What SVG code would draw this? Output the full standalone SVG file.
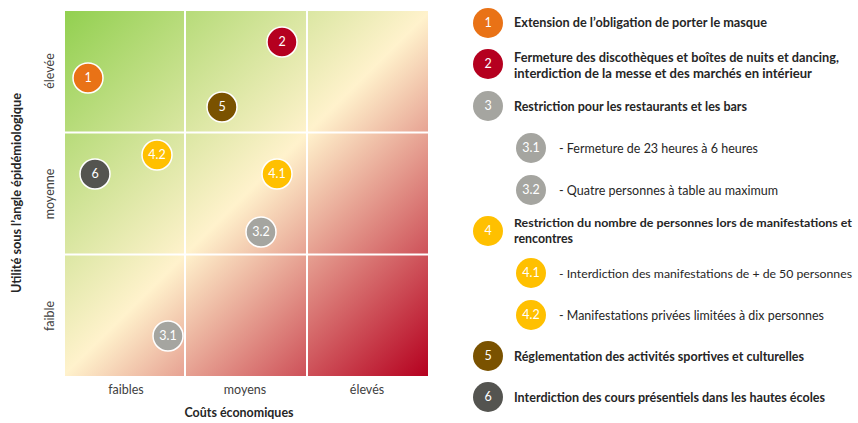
<svg xmlns="http://www.w3.org/2000/svg" width="858" height="423" viewBox="0 0 858 423">
<style>
text{font-family:Lato,"Open Sans","Liberation Sans",sans-serif;fill:#262626}
.ax{font-size:12.5px;fill:#404040}
.tt{font-size:12.5px;font-weight:bold}
.lg{font-size:13px;font-weight:bold}
.sb{font-size:13px}
.n{font-size:12.5px;fill:#ffffff;text-anchor:middle}
.dot{stroke:#ffffff;stroke-width:1.5}
.grid{stroke:#ffffff;stroke-width:2}
</style>
<defs>
<linearGradient id="bg" gradientUnits="userSpaceOnUse" x1="65" y1="11" x2="428" y2="376">
<stop offset="0" stop-color="#92d050"/>
<stop offset="0.5" stop-color="#fff2cc"/>
<stop offset="1" stop-color="#b5001f"/>
</linearGradient>
</defs>
<g id="matrix">
<rect x="65" y="11" width="363" height="365" fill="url(#bg)"/>
<g class="grid">
<line x1="185" y1="11" x2="185" y2="376"/>
<line x1="307" y1="11" x2="307" y2="376"/>
<line x1="65" y1="132.5" x2="428" y2="132.5"/>
<line x1="65" y1="254.5" x2="428" y2="254.5"/>
</g>
</g>
<g id="axes">
<text class="ax" text-anchor="middle" transform="translate(54,71) rotate(-90)">élevée</text>
<text class="ax" text-anchor="middle" transform="translate(54,194) rotate(-90)">moyenne</text>
<text class="ax" text-anchor="middle" transform="translate(54,316) rotate(-90)">faible</text>
<text class="tt" text-anchor="middle" textLength="200" lengthAdjust="spacingAndGlyphs" transform="translate(21,193) rotate(-90)">Utilité sous l’angle épidémiologique</text>
<text class="ax" x="126" y="394" text-anchor="middle">faibles</text>
<text class="ax" x="245" y="394" text-anchor="middle">moyens</text>
<text class="ax" x="367" y="394" text-anchor="middle">élevés</text>
<text class="tt" x="239" y="417" text-anchor="middle" textLength="109" lengthAdjust="spacingAndGlyphs">Coûts économiques</text>
</g>
<g id="points">
<g id="p1"><circle class="dot" cx="88" cy="78" r="15" fill="#e97216"/><text class="n" x="88" y="82">1</text></g>
<g id="p2"><circle class="dot" cx="282" cy="42" r="15" fill="#b5001f"/><text class="n" x="282" y="46">2</text></g>
<g id="p5"><circle class="dot" cx="222" cy="107" r="15" fill="#7a5200"/><text class="n" x="222" y="111">5</text></g>
<g id="p42"><circle class="dot" cx="157" cy="155" r="15" fill="#ffc000"/><text class="n" x="157" y="159">4.2</text></g>
<g id="p6"><circle class="dot" cx="95" cy="174" r="15" fill="#545450"/><text class="n" x="95" y="178">6</text></g>
<g id="p41"><circle class="dot" cx="277" cy="174" r="15" fill="#ffc000"/><text class="n" x="277" y="178">4.1</text></g>
<g id="p32"><circle class="dot" cx="261" cy="232" r="15" fill="#a5a5a0"/><text class="n" x="261" y="236">3.2</text></g>
<g id="p31"><circle class="dot" cx="168" cy="336" r="15" fill="#a5a5a0"/><text class="n" x="168" y="340">3.1</text></g>
</g>
<g id="legend">
<g id="l1"><circle cx="488" cy="23" r="15" fill="#e97216"/><text class="n" x="488" y="27">1</text>
<text class="lg" x="514" y="27" textLength="253" lengthAdjust="spacingAndGlyphs">Extension de l’obligation de porter le masque</text></g>
<g id="l2"><circle cx="488" cy="64" r="15" fill="#b5001f"/><text class="n" x="488" y="68">2</text>
<text class="lg" x="514" y="62" textLength="325" lengthAdjust="spacingAndGlyphs">Fermeture des discothèques et boîtes de nuits et dancing,</text>
<text class="lg" x="514" y="78" textLength="298" lengthAdjust="spacingAndGlyphs">interdiction de la messe et des marchés en intérieur</text></g>
<g id="l3"><circle cx="488" cy="106" r="15" fill="#a5a5a0"/><text class="n" x="488" y="110">3</text>
<text class="lg" x="514" y="111" textLength="233" lengthAdjust="spacingAndGlyphs">Restriction pour les restaurants et les bars</text></g>
<g id="l31"><circle cx="531" cy="148" r="15" fill="#a5a5a0"/><text class="n" x="531" y="152">3.1</text>
<text class="sb" x="559" y="153" textLength="199" lengthAdjust="spacingAndGlyphs">- Fermeture de 23 heures à 6 heures</text></g>
<g id="l32"><circle cx="531" cy="190" r="15" fill="#a5a5a0"/><text class="n" x="531" y="194">3.2</text>
<text class="sb" x="559" y="195" textLength="219" lengthAdjust="spacingAndGlyphs">- Quatre personnes à table au maximum</text></g>
<g id="l4"><circle cx="488" cy="231" r="15" fill="#ffc000"/><text class="n" x="488" y="235">4</text>
<text class="lg" x="514" y="227" style="font-size:11.5px" textLength="338" lengthAdjust="spacingAndGlyphs">Restriction du nombre de personnes lors de manifestations et</text>
<text class="lg" x="514" y="243" textLength="59" lengthAdjust="spacingAndGlyphs">rencontres</text></g>
<g id="l41"><circle cx="531" cy="273" r="15" fill="#ffc000"/><text class="n" x="531" y="277">4.1</text>
<text class="sb" x="559" y="278" style="font-size:12px" textLength="293" lengthAdjust="spacingAndGlyphs">- Interdiction des manifestations de + de 50 personnes</text></g>
<g id="l42"><circle cx="531" cy="315" r="15" fill="#ffc000"/><text class="n" x="531" y="319">4.2</text>
<text class="sb" x="559" y="320" textLength="265" lengthAdjust="spacingAndGlyphs">- Manifestations privées limitées à dix personnes</text></g>
<g id="l5"><circle cx="488" cy="356" r="15" fill="#7a5200"/><text class="n" x="488" y="360">5</text>
<text class="lg" x="514" y="361" textLength="290" lengthAdjust="spacingAndGlyphs">Réglementation des activités sportives et culturelles</text></g>
<g id="l6"><circle cx="488" cy="397" r="15" fill="#545450"/><text class="n" x="488" y="401">6</text>
<text class="lg" x="514" y="402" textLength="311" lengthAdjust="spacingAndGlyphs">Interdiction des cours présentiels dans les hautes écoles</text></g>
</g>
</svg>
